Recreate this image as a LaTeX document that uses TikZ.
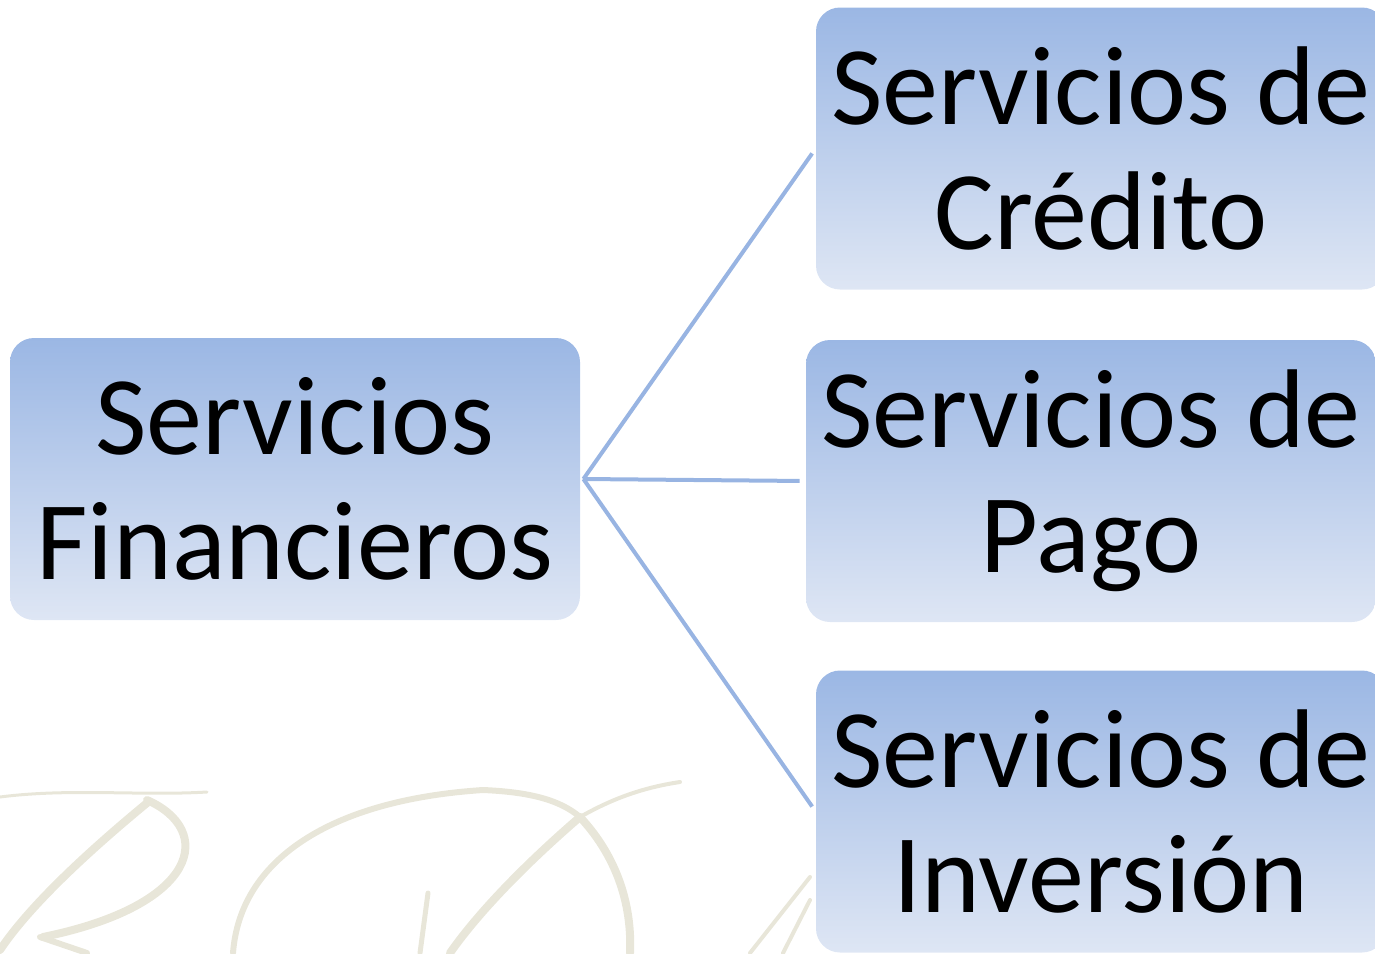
\documentclass[tikz,border=0pt]{standalone}
\usepackage[rgb]{xcolor}
\usepackage{fontspec}
\setmainfont{Carlito}
\usepackage{tikz}

\definecolor{cajaarriba}{RGB}{155,183,228}
\definecolor{cajaabajo}{RGB}{222,230,244}
\definecolor{enlacecolor}{RGB}{152,180,226}
\definecolor{marcaagua}{RGB}{232,230,217}

\begin{document}
\begin{tikzpicture}[x=0.5pt, y=-0.5pt,
  servicio/.style={rectangle, rounded corners=12pt, inner sep=0pt,
    minimum width=285pt, minimum height=141pt, align=center,
    top color=cajaarriba, bottom color=cajaabajo, draw=none,
    font=\fontsize{56}{62.5}\selectfont},
  enlace/.style={enlacecolor, line width=2pt, shorten >=3pt},
  trazo/.style={marcaagua, line cap=round}]

\useasboundingbox (0,0) rectangle (1375,953);
\clip (0,0) rectangle (1375,953);

%% marca de agua RD
\draw[trazo, line width=1.5pt] (0,797) .. controls (70,788) and (140,796) .. (207,792);
\draw[trazo, line width=4pt] (147,803) .. controls (90,850) and (30,905) .. (0,950);
\draw[trazo, line width=4pt] (147,800) .. controls (215,830) and (200,905) .. (43,937);
\draw[trazo, line width=3pt] (40,937) -- (87,953);
\draw[trazo, line width=3pt] (233,953) .. controls (240,860) and (330,800) .. (483,790)
   .. controls (530,792) and (560,800) .. (580,817);
\draw[trazo, line width=2pt] (580,817) .. controls (610,800) and (640,788) .. (680,782);
\draw[trazo, line width=4pt] (580,817) .. controls (620,860) and (632,910) .. (630,953);
\draw[trazo, line width=4pt] (580,817) .. controls (530,860) and (480,910) .. (450,953);
\draw[trazo, line width=2.5pt] (428,893) -- (420,953);
\draw[trazo, line width=2pt] (810,877) -- (750,953);
\draw[trazo, line width=2pt] (810,900) -- (783,953);

%% cajas
\node[servicio] (financieros) at (295,479) {Servicios\\Financieros};
\node[servicio] (credito) at (1101,148.5) {Servicios de\\Crédito};
\node[servicio] (pago) at (1091,481) {Servicios de\\Pago};
\node[servicio] (inversion) at (1101,811.5) {Servicios de\\Inversión};

%% enlaces
\path (financieros.east) ++(1.5pt,0) coordinate (centro);
\draw[enlace] (centro) -- (credito.west);
\draw[enlace] (centro) -- (pago.west);
\draw[enlace] (centro) -- (inversion.west);

\end{tikzpicture}
\end{document}
